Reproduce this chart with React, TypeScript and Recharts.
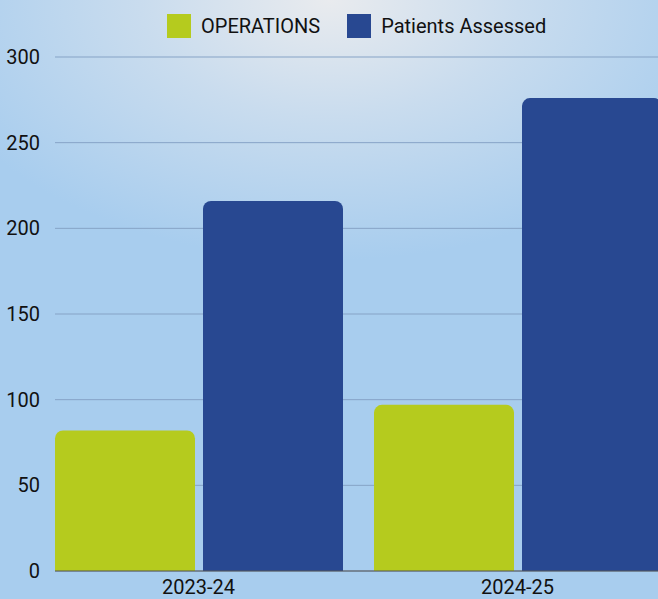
import React from 'react';
import { BarChart, Bar, XAxis, YAxis, CartesianGrid, Legend } from 'recharts';

const years = ['2023-24', '2024-25'];
const operations = [82, 97];
const patientsAssessed = [216, 276];
const yTicks = [0, 50, 100, 150, 200, 250, 300];

const data = years.map((year, i) => ({
  year,
  operations: operations[i],
  patients: patientsAssessed[i],
}));

const GREEN = '#b5cb1e';
const BLUE = '#284891';

const legendItems = [
  { label: 'OPERATIONS', color: GREEN },
  { label: 'Patients Assessed', color: BLUE },
];

const LegendContent = () => (
  <div style={{ display: 'flex', alignItems: 'center', height: 24 }}>
    {legendItems.map((item, i) => (
      <div key={item.label} style={{ display: 'flex', alignItems: 'center', marginRight: i === 0 ? 27 : 0 }}>
        <span style={{ width: 24, height: 24, background: item.color, display: 'inline-block', marginRight: 10 }} />
        <span style={{ fontSize: 20, color: '#111', lineHeight: '24px' }}>{item.label}</span>
      </div>
    ))}
  </div>
);

const App: React.FC = () => {
  return (
    <div
      style={{
        position: 'absolute',
        top: 0,
        left: 0,
        width: 658,
        height: 599,
        overflow: 'hidden',
        fontFamily: 'Roboto, sans-serif',
        background: 'radial-gradient(ellipse 420px 260px at 50% 0%, #e9ebee 0%, #c9dcee 45%, #a8cdee 100%)',
      }}
    >
      <BarChart
        width={677}
        height={599}
        data={data}
        margin={{ top: 33, right: 0, bottom: 0, left: 0 }}
        barGap={8}
        barCategoryGap={16}
      >
        <CartesianGrid vertical={false} stroke="#86a3c6" />
        <Legend
          verticalAlign="top"
          content={<LegendContent />}
          wrapperStyle={{ top: 14, left: 167, width: 'auto' }}
        />
        <XAxis
          dataKey="year"
          height={28}
          padding={{ left: -16, right: 0 }}
          tickLine={false}
          axisLine={{ stroke: '#555', strokeWidth: 1 }}
          tickMargin={3}
          tick={{ fontSize: 20, fill: '#111' }}
        />
        <YAxis
          width={55}
          domain={[0, 300]}
          ticks={yTicks}
          axisLine={false}
          tickLine={false}
          tickMargin={9}
          tick={{ fontSize: 20, fill: '#111' }}
        />
        <Bar dataKey="operations" fill={GREEN} radius={[8, 8, 0, 0]} isAnimationActive={false} />
        <Bar dataKey="patients" fill={BLUE} radius={[8, 8, 0, 0]} isAnimationActive={false} />
      </BarChart>
    </div>
  );
};

export default App;
